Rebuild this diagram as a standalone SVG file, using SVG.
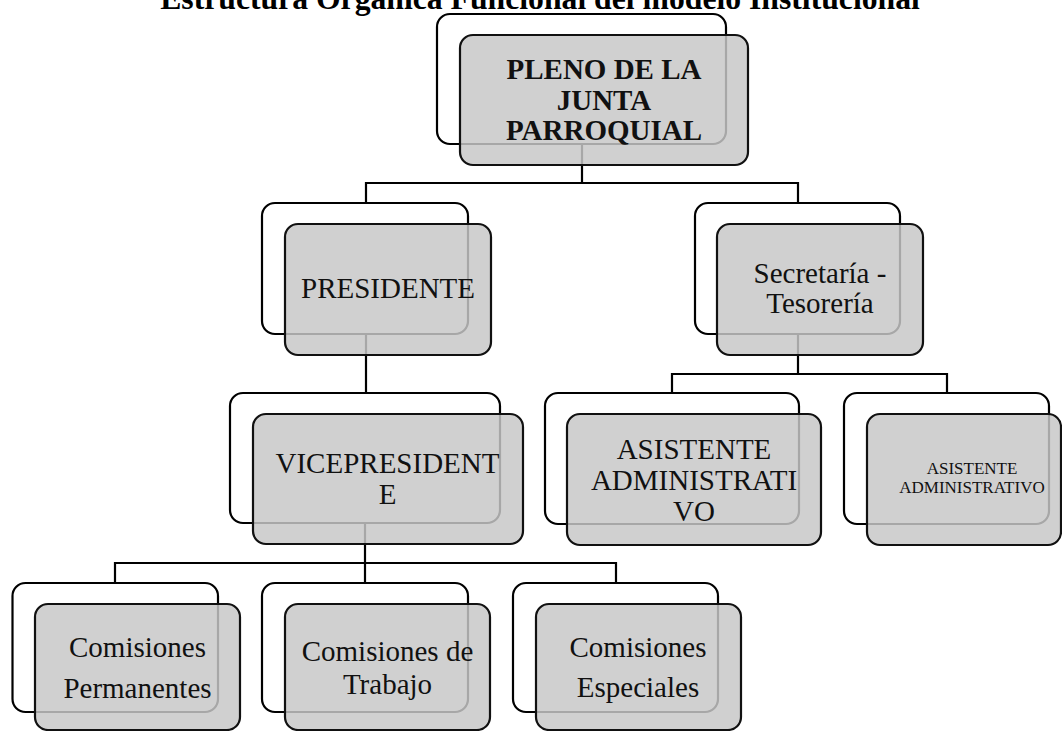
<svg xmlns="http://www.w3.org/2000/svg" width="1062" height="731" viewBox="0 0 1062 731">
<style>
.bk{fill:#ffffff;stroke:#000;stroke-width:2.2}
.fr{fill:#c7c7c7;fill-opacity:0.84;stroke:#111;stroke-width:2.2}
.t{font-family:"Liberation Serif","Times New Roman",serif;font-size:29px;fill:#111;text-anchor:middle}
.b{font-weight:bold}
.s{font-size:17px}
.c{fill:none;stroke:#000;stroke-width:2.2}
.title{font-family:"Liberation Serif","Times New Roman",serif;font-size:31.7px;font-weight:bold;fill:#000;text-anchor:middle}
</style>
<text class="title" x="540" y="9">Estructura Orgánica Funcional del modelo Institucional</text>
<g id="connectors">
<path class="c" d="M582 144V183M366 183H798M366 182V203M798 182V203"/>
<path class="c" d="M366 334V393"/>
<path class="c" d="M798 334V374M672 374H947M672 373V393M947 373V393"/>
<path class="c" d="M365 523V563M115 563H616M115 562V583M365 562V583M616 562V583"/>
</g>
<g id="pleno">
<rect class="bk" x="437" y="14" width="289" height="130" rx="13"/>
<rect class="fr" x="460" y="35" width="288" height="130" rx="13"/>
<text class="t b"><tspan x="604" y="79">PLENO DE LA</tspan><tspan x="604" y="109.5">JUNTA</tspan><tspan x="604" y="139.5">PARROQUIAL</tspan></text>
</g>
<g id="presidente">
<rect class="bk" x="262" y="203" width="206" height="131" rx="13"/>
<rect class="fr" x="285" y="224" width="206" height="131" rx="13"/>
<text class="t" x="388" y="298">PRESIDENTE</text>
</g>
<g id="secretaria">
<rect class="bk" x="695" y="203" width="205" height="131" rx="13"/>
<rect class="fr" x="717" y="224" width="206" height="131" rx="13"/>
<text class="t"><tspan x="820" y="283">Secretaría -</tspan><tspan x="820" y="313">Tesorería</tspan></text>
</g>
<g id="vicepresidente">
<rect class="bk" x="230" y="393" width="270" height="130" rx="13"/>
<rect class="fr" x="253" y="414" width="270" height="130" rx="13"/>
<text class="t"><tspan x="387.5" y="473">VICEPRESIDENT</tspan><tspan x="387.5" y="504">E</tspan></text>
</g>
<g id="asistente1">
<rect class="bk" x="545" y="393" width="254" height="131" rx="13"/>
<rect class="fr" x="567" y="414" width="254" height="131" rx="13"/>
<text class="t"><tspan x="694" y="458.5">ASISTENTE</tspan><tspan x="694" y="490">ADMINISTRATI</tspan><tspan x="694" y="521">VO</tspan></text>
</g>
<g id="asistente2">
<rect class="bk" x="844" y="393" width="205" height="131" rx="13"/>
<rect class="fr" x="867" y="414" width="194" height="131" rx="13"/>
<text class="t s"><tspan x="972" y="474">ASISTENTE</tspan><tspan x="972" y="493">ADMINISTRATIVO</tspan></text>
</g>
<g id="permanentes">
<rect class="bk" x="12.5" y="583" width="205.5" height="129" rx="13"/>
<rect class="fr" x="35" y="604" width="205" height="126" rx="13"/>
<text class="t"><tspan x="137.5" y="657">Comisiones</tspan><tspan x="137.5" y="698">Permanentes</tspan></text>
</g>
<g id="trabajo">
<rect class="bk" x="262" y="583" width="206" height="129" rx="13"/>
<rect class="fr" x="285" y="604" width="205" height="126" rx="13"/>
<text class="t"><tspan x="387.5" y="661">Comisiones de</tspan><tspan x="387.5" y="694">Trabajo</tspan></text>
</g>
<g id="especiales">
<rect class="bk" x="513" y="583" width="205" height="129" rx="13"/>
<rect class="fr" x="536" y="604" width="205" height="126" rx="13"/>
<text class="t"><tspan x="638" y="657">Comisiones</tspan><tspan x="638" y="697">Especiales</tspan></text>
</g>
</svg>
